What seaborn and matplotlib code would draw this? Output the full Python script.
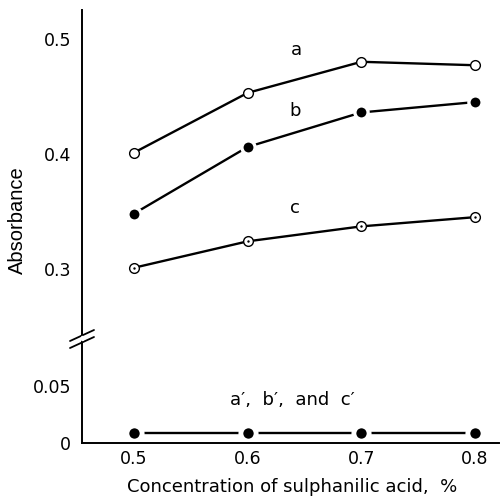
import matplotlib
matplotlib.use("Agg")
import matplotlib.pyplot as plt
import seaborn as sns
import pandas as pd
from matplotlib.lines import Line2D

# ---- data ----
conc = [0.5, 0.6, 0.7, 0.8]
abs_a = [0.401, 0.453, 0.480, 0.477]
abs_b = [0.348, 0.406, 0.436, 0.445]
abs_c = [0.301, 0.324, 0.337, 0.345]
abs_blank = [0.009, 0.009, 0.009, 0.009]   # a', b' and c'
upper_ticks = [0.3, 0.4, 0.5]
upper_ticklabels = ["0.3", "0.4", "0.5"]
lower_ticks = [0.0, 0.05]
lower_ticklabels = ["0", "0.05"]
x_ticks = [0.5, 0.6, 0.7, 0.8]
x_ticklabels = ["0.5", "0.6", "0.7", "0.8"]

sns.set_style("white")
plt.rcParams["font.family"] = ["DejaVu Sans"]
plt.rcParams["text.color"] = "black"
plt.rcParams["axes.labelcolor"] = "black"
plt.rcParams["xtick.color"] = "black"
plt.rcParams["ytick.color"] = "black"

fig = plt.figure(figsize=(5, 5), dpi=100)
ax_top = fig.add_axes([0.164, 0.324, 0.834, 0.656])
ax_bot = fig.add_axes([0.164, 0.114, 0.834, 0.210])

df = pd.DataFrame({"x": conc, "a": abs_a, "b": abs_b, "c": abs_c, "d": abs_blank})

lw = 1.7
# a: open circles
sns.lineplot(data=df, x="x", y="a", ax=ax_top, color="black", lw=lw,
             marker="o", markersize=7, markerfacecolor="white",
             markeredgecolor="black", markeredgewidth=1.0)
# b: filled circles with small gap
sns.lineplot(data=df, x="x", y="b", ax=ax_top, color="black", lw=lw,
             marker="o", markersize=9.5, markerfacecolor="black",
             markeredgecolor="white", markeredgewidth=2.4)
# c: dotted circles
sns.lineplot(data=df, x="x", y="c", ax=ax_top, color="black", lw=lw,
             marker="o", markersize=7, markerfacecolor="white",
             markeredgecolor="black", markeredgewidth=1.0)
sns.scatterplot(data=df, x="x", y="c", ax=ax_top, color="black", s=3,
                marker="o", edgecolor="black", linewidth=0, zorder=5)
# a', b', c'
sns.lineplot(data=df, x="x", y="d", ax=ax_bot, color="black", lw=lw,
             marker="o", markersize=11, markerfacecolor="black",
             markeredgecolor="white", markeredgewidth=3.5)

xmin, xmax = 0.4544, 0.821
for ax in (ax_top, ax_bot):
    ax.set_xlim(xmin, xmax)
    ax.set_xlabel("")
    ax.set_ylabel("")
    for s in ("top", "right"):
        ax.spines[s].set_visible(False)
    ax.spines["left"].set_linewidth(1.4)
    ax.spines["left"].set_color("black")
    ax.tick_params(axis="y", direction="in", length=8.5, width=1.1,
                   labelsize=12.5, pad=8, colors="black")

ax_top.set_ylim(0.24, 0.525)
ax_top.spines["bottom"].set_visible(False)
ax_top.set_xticks([])
ax_top.set_yticks(upper_ticks)
ax_top.set_yticklabels(upper_ticklabels)

ax_bot.set_ylim(0.0, 0.0916)
ax_bot.spines["bottom"].set_linewidth(1.4)
ax_bot.spines["bottom"].set_color("black")
ax_bot.set_yticks(lower_ticks)
ax_bot.set_yticklabels(lower_ticklabels)
ax_bot.set_xticks(x_ticks)
ax_bot.set_xticklabels(x_ticklabels)
ax_bot.tick_params(axis="x", direction="in", length=6, width=1.1,
                   labelsize=12.5, pad=5, colors="black")

# curve labels
ax_top.text(0.643, 0.490, "a", fontsize=13, ha="center", va="center")
ax_top.text(0.642, 0.437, "b", fontsize=13, ha="center", va="center")
ax_top.text(0.642, 0.353, "c", fontsize=13, ha="center", va="center")
ax_bot.text(0.6395, 0.0375, "a\u2032,  b\u2032,  and  c\u2032", fontsize=13,
            ha="center", va="center")

fig.text(0.584, 0.026, "Concentration of sulphanilic acid,  %", fontsize=13,
         ha="center", va="center")
fig.text(0.034, 0.56, "Absorbance", fontsize=14.5, rotation=90,
         ha="center", va="center", family=["Liberation Sans"])

# axis break marks
for dy in (0.0, 7.0):
    y0 = 341 + dy
    y1 = 330 + dy
    fig.add_artist(Line2D([70 / 500, 94 / 500],
                          [1 - y0 / 500, 1 - y1 / 500],
                          transform=fig.transFigure, color="black", lw=1.3))
fig.add_artist(Line2D([82 / 500, 82 / 500], [1 - 336.5 / 500, 1 - 339 / 500],
                      transform=fig.transFigure, color="white", lw=2.5))

fig.savefig("out.png", dpi=100)
